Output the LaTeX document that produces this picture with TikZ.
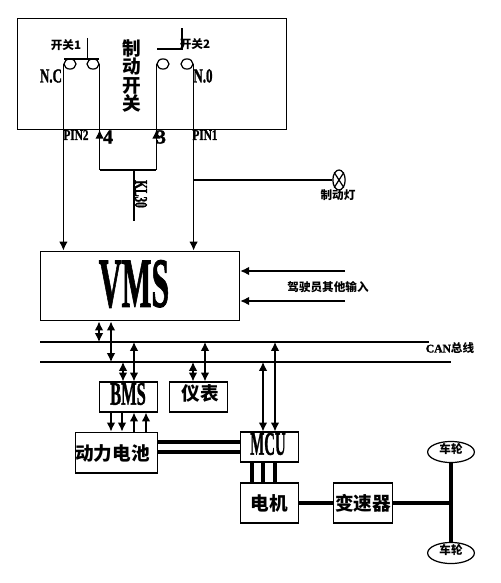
\documentclass[tikz,border=0pt]{standalone}
\usepackage{graphicx}
\usepackage{fontspec}
\setmainfont[BoldFeatures={FakeBold=1.6}]{Liberation Serif}
\newfontfamily\cjk{Noto Sans CJK SC}
\usetikzlibrary{arrows.meta,shapes.geometric}
\newcommand{\nar}[2]{\scalebox{#1}[1]{#2}}
\tikzset{
  wire/.style={line width=.7pt},
  arrowwire/.style={wire, -{Latex[length=5pt,width=4.8pt]}},
  biwire/.style={wire, {Latex[length=5pt,width=4.8pt]}-{Latex[length=5pt,width=4.8pt]}},
  power/.style={line width=1.8pt},
  boxnode/.style={draw, line width=.7pt, inner sep=0pt, minimum width=#1},
  boxnode/.default=33.4pt,
  contact/.style={draw, ellipse, line width=.7pt, inner sep=0pt, minimum width=6.8pt, minimum height=5.8pt},
  wheel/.style={draw, ellipse, line width=.7pt, inner sep=0pt, minimum width=26.6pt, minimum height=12pt},
  tagcn/.style={inner sep=0pt, font=\cjk\bfseries\fontsize{6.6pt}{7pt}\selectfont},
  namecn/.style={inner sep=0pt, font=\cjk\bfseries\fontsize{10.6pt}{10.6pt}\selectfont},
  pinlabel/.style={inner sep=0pt, font=\bfseries\fontsize{8.5pt}{9pt}\selectfont},
  pinbig/.style={inner sep=0pt, font=\bfseries\fontsize{11.3pt}{12pt}\selectfont},
  ecu/.style={inner sep=0pt, font=\bfseries\fontsize{18.7pt}{19pt}\selectfont}
}
\begin{document}
\begin{tikzpicture}[x=0.2mm, y=-0.2mm]
  \useasboundingbox (0,0) rectangle (500,583);
  % Brake switch housing
  \node[draw, line width=.7pt, inner sep=0pt, minimum width=152.8pt, minimum height=62.8pt] (brakebox) at (152,74) {};
  \node[namecn, align=center] (braketext) at (132,76) {制\\动\\开\\关};
  \node[contact] (conA) at (70,64) {};
  \node[contact] (conB) at (93,64) {};
  \node[contact] (conC) at (163,64) {};
  \node[contact] (conD) at (187,64) {};
  \coordinate (barAl) at (64,59);
  \coordinate (barAr) at (99,59);
  \coordinate (stemA) at (87.5,38);
  \coordinate (barBl) at (157,49);
  \coordinate (barBr) at (182,49);
  \coordinate (stemB) at (182,28);
  \draw[wire] (barAl) -- (barAr);
  \draw[wire] (stemA) -- (stemA |- barAl);
  \draw[wire] (barBl) -- (barBr) -- (stemB);
  \node[tagcn] (swlabelA) at (66,45) {开关1};
  \node[tagcn] (swlabelB) at (195,44) {开关2};
  \node[pinbig] (ncl) at (51,76) {\nar{.65}{N.C}};
  \node[pinbig] (nol) at (203,76) {\nar{.65}{N.0}};
  \node[pinlabel] (pinB) at (76,135) {\nar{.75}{PIN2}};
  \node[pinlabel] (pinA) at (205,135) {\nar{.75}{PIN1}};
  \node[pinbig] (pinfour) at (108,137) {4};
  \node[pinbig] (pinthree) at (161,137) {3};
  % VMS and the inputs
  \node[boxnode=113.4pt, minimum height=39.7pt] (vms) at (140,286) {};
  \node[inner sep=0pt, font=\bfseries\fontsize{40pt}{40pt}\selectfont] (vmstext) at (134,284) {\nar{.45}{VMS}};
  \draw[arrowwire] (conA.west) -- (conA.west |- vms.north);
  \draw[arrowwire] (conD.east) -- (conD.east |- vms.north);
  % KL30 feed
  \coordinate (feedL) at (conB.east |- 0,170);
  \coordinate (feedR) at (conC.west |- 0,170);
  \coordinate (feedEnd) at (134,221);
  \draw[wire] (conB.east) -- (feedL);
  \draw[arrowwire] (feedL) -- (feedL |- brakebox.south);
  \draw[wire] (conC.west) -- (feedR);
  \draw[arrowwire] (feedR) -- (feedR |- brakebox.south);
  \draw[wire] (feedL) -- (feedR);
  \draw[wire] (feedEnd) -- (feedEnd |- feedL);
  \node[pinlabel, rotate=-90] (kllabel) at (141,194) {\nar{.63}{\fontsize{10.2pt}{11pt}\selectfont KL30}};
  % Brake lamp
  \node[draw, ellipse, line width=.7pt, inner sep=0pt, minimum width=7pt, minimum height=11.4pt] (lamp) at (339,180) {};
  \draw[wire] (lamp.north west) -- (lamp.south east);
  \draw[wire] (lamp.north east) -- (lamp.south west);
  \draw[wire] (conD.east |- lamp.west) -- (lamp.west);
  \node[tagcn] (lamplabel) at (338,195) {制动灯};
  \coordinate (driveA) at (345,271);
  \coordinate (driveB) at (345,301);
  \draw[arrowwire] (driveA) -- (driveA -| vms.east);
  \draw[arrowwire] (driveB) -- (driveB -| vms.east);
  \node[tagcn] (drivelabel) at (328,287) {驾驶员其他输入};
  % CAN bus
  \coordinate (canhiL) at (40,342);
  \coordinate (canhiR) at (429,342);
  \coordinate (canloL) at (40,362);
  \coordinate (canloR) at (451,362);
  \draw[wire] (canhiL) -- (canhiR);
  \draw[wire] (canloL) -- (canloR);
  \node[tagcn] (canlabel) at (450,348) {{\rmfamily CAN}总线};
  % Modules on the bus
  \node[boxnode, minimum height=17pt] (bms) at (128.5,397) {};
  \node[ecu] (bmstext) at (128,394) {\nar{.5}{BMS}};
  \node[boxnode, minimum height=17pt] (meter) at (198.5,397) {};
  \node[namecn] (metertext) at (200,393) {仪表};
  \node[boxnode=47pt, minimum height=23.2pt] (battery) at (116.5,452.5) {};
  \node[namecn] (batterytext) at (112.5,453) {动力电池};
  \node[boxnode, minimum height=17pt] (mcu) at (269.5,447) {};
  \node[ecu] (mcutext) at (268,444) {\nar{.45}{MCU}};
  \node[boxnode, minimum height=22.7pt, namecn] (motor) at (269.5,503) {电机};
  \node[boxnode, minimum height=22.7pt, namecn] (gearbox) at (363,503) {变速器};
  \draw[biwire] (99,0 |- vms.south) -- (99,0 |- canhiL);
  \draw[biwire] (111,0 |- vms.south) -- (111,0 |- canloL);
  \foreach \x/\n/\c in {123/bms/canloL,134/bms/canhiL,193/meter/canloL,205/meter/canhiL,263/mcu/canloL,275/mcu/canhiL} {
    \draw[biwire] (\x,0 |- \c) -- (\x,0 |- \n.north);
  }
  \foreach \x in {111,122} {
    \draw[arrowwire] (\x,0 |- bms.south) -- (\x,0 |- battery.north);
  }
  \foreach \x in {134,146} {
    \draw[arrowwire] (\x,0 |- battery.north) -- (\x,0 |- bms.south);
  }
  % Power path
  \draw[power] (battery.east |- 0,442) -- (mcu.west |- 0,442);
  \draw[power] (battery.east |- 0,452) -- (mcu.west |- 0,452);
  \foreach \x in {252,263,275} {
    \draw[power] (\x,0 |- mcu.south) -- (\x,0 |- motor.north);
  }
  \draw[power] (motor) -- (gearbox);
  \node[wheel] (wheelA) at (451,452) {};
  \node[wheel] (wheelB) at (451,553) {};
  \node[tagcn] (wheelAtext) at (451,449) {车轮};
  \node[tagcn] (wheelBtext) at (451,550) {车轮};
  \draw[power] (wheelA) -- (wheelB);
  \draw[power] (gearbox) -- (wheelA |- gearbox);
\end{tikzpicture}
\end{document}
